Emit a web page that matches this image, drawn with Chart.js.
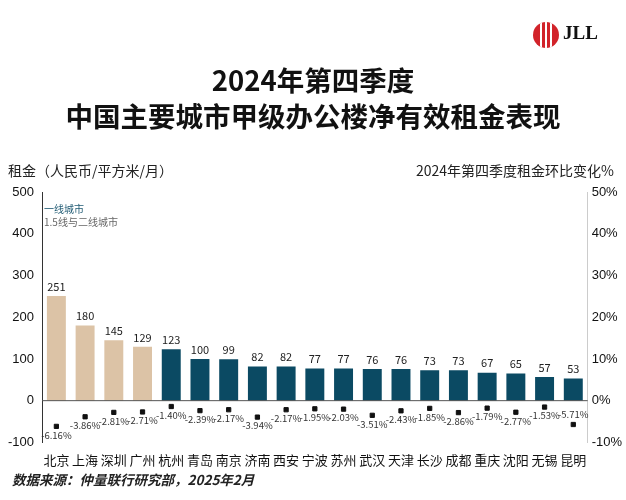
<!DOCTYPE html>
<html><head><meta charset="utf-8">
<script src="https://cdn.jsdelivr.net/npm/chart.js@4.4.0/dist/chart.umd.min.js"></script>
<style>
body{margin:0;width:626px;height:500px;background:#fff;font-family:"Noto Sans CJK SC","Noto Sans",sans-serif;position:relative;overflow:hidden}
#c{position:absolute;left:0;top:0}
.t{position:absolute;left:0;width:626px;text-align:center;font-weight:bold;font-size:27.5px;color:#111}
.a{position:absolute;font-size:14px;color:#222;top:160px}
.lg{position:absolute;left:44px;font-size:10px}
.src{position:absolute;left:12px;top:469px;font-size:13.5px;font-style:italic;font-weight:bold;color:#222}
.logo{position:absolute;left:533px;top:22px;width:26px;height:26px;border-radius:50%;background:#d2232a;overflow:hidden}
.logo i{position:absolute;top:0;height:26px;width:2px;background:#fff}
.jll{position:absolute;left:563px;top:22px;font-size:19px;font-weight:bold;color:#111;font-family:"Liberation Serif",serif}
</style></head><body>
<canvas id="c" width="626" height="500"></canvas>
<div class="logo"><i style="left:7px"></i><i style="left:12px"></i><i style="left:17px"></i></div>
<div class="jll">JLL</div>
<div class="t" style="top:59px">2024年第四季度</div>
<div class="t" style="top:95px">中国主要城市甲级办公楼净有效租金表现</div>
<div class="a" style="left:8px">租金（人民币/平方米/月）</div>
<div class="a" style="right:12px">2024年第四季度租金环比变化%</div>
<div class="lg" style="top:201px;color:#1f5a73">一线城市</div>
<div class="lg" style="top:214px;color:#666">1.5线与二线城市</div>
<div class="src">数据来源：仲量联行研究部，2025年2月</div>
<script>
const cities=["北京","上海","深圳","广州","杭州","青岛","南京","济南","西安","宁波","苏州","武汉","天津","长沙","成都","重庆","沈阳","无锡","昆明"];
const rents=[251,180,145,129,123,100,99,82,82,77,77,76,76,73,73,67,65,57,53];
const changes=[-6.16,-3.86,-2.81,-2.71,-1.40,-2.39,-2.17,-3.94,-2.17,-1.95,-2.03,-3.51,-2.43,-1.85,-2.86,-1.79,-2.77,-1.53,-5.71];
const tier1=4;
const rentTicks=[-100,0,100,200,300,400,500];
const pctTicks=[-10,0,10,20,30,40,50];
const labels={id:'labels',afterDatasetsDraw(ch){const c=ch.ctx;c.save();c.textAlign='center';
 const m0=ch.getDatasetMeta(0),m1=ch.getDatasetMeta(1);
 c.font='11px "Noto Sans CJK SC"';c.fillStyle='#222';c.textBaseline='bottom';
 m0.data.forEach((b,i)=>c.fillText(rents[i],b.x,b.y-4));
 c.font='9.5px "Noto Sans CJK SC"';c.fillStyle='#333';
 m1.data.forEach((p,i)=>{const last=i===changes.length-1;c.textBaseline=last?'bottom':'top';c.fillText(changes[i].toFixed(2)+'%',p.x,last?p.y-5:p.y+4);});
 const y=ch.scales.y.getPixelForValue(0);c.strokeStyle='#555';c.lineWidth=1;c.beginPath();c.moveTo(ch.chartArea.left,y);c.lineTo(ch.chartArea.right,y);c.stroke();
 c.restore();}};
new Chart(document.getElementById('c'),{
 data:{labels:cities,datasets:[
  {type:'bar',data:rents,yAxisID:'y',backgroundColor:rents.map((v,i)=>i<tier1?'#dcc3a6':'#0b4a63'),categoryPercentage:1,barPercentage:0.66,order:2},
  {type:'scatter',data:changes.map((v,i)=>({x:cities[i],y:v})),yAxisID:'y1',pointStyle:'rect',pointRadius:3,backgroundColor:'#111',borderColor:'#111',order:1}
 ]},
 options:{responsive:false,animation:false,events:[],
  layout:{padding:{top:192,left:0,right:0,bottom:30}},
  plugins:{legend:{display:false},tooltip:{enabled:false}},
  scales:{
   x:{type:'category',offset:true,grid:{display:false},border:{display:false},ticks:{color:'#111',font:{size:13,family:'Noto Sans CJK SC'},maxRotation:0,autoSkip:false,padding:2}},
   y:{min:-100,max:500,afterBuildTicks:a=>{a.ticks=rentTicks.map(v=>({value:v}))},grid:{display:false,drawTicks:false},border:{display:true,color:'#333'},ticks:{color:'#111',font:{size:13},padding:8}},
   y1:{position:'right',min:-10,max:50,afterBuildTicks:a=>{a.ticks=pctTicks.map(v=>({value:v}))},grid:{display:false,drawTicks:false},border:{display:true,color:'#ccc'},ticks:{color:'#111',font:{size:13},padding:4,callback:v=>v+'%'}}
  }}
 ,plugins:[labels]});
</script></body></html>
